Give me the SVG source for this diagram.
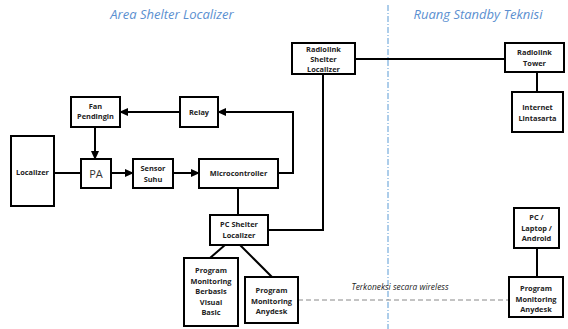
<svg xmlns="http://www.w3.org/2000/svg" width="568" height="329" viewBox="0 0 568 329">
  <defs>
    <marker id="arrow" viewBox="0 0 10 10" refX="9" refY="5" markerWidth="4.5" markerHeight="4.5" orient="auto" markerUnits="strokeWidth">
      <path d="M0,0.5 L10,5 L0,9.5 Z" fill="#000"/>
    </marker>
    <style>
      .box { fill: #fff; stroke: #000; stroke-width: 2; }
      .lbl { font-family: "Open Sans", "Liberation Sans", sans-serif; font-size: 7.4px; font-weight: bold; fill: #222; text-anchor: middle; }
      .area { font-family: "Open Sans", "Liberation Sans", sans-serif; font-size: 13px; font-style: italic; fill: #5b8fd0; text-anchor: middle; }
      .wire { fill: none; stroke: #000; stroke-width: 2; }
      .arr { marker-end: url(#arrow); }
    </style>
  </defs>
  <rect width="568" height="329" fill="#fff"/>

  <!-- section titles and divider -->
  <text class="area" x="172" y="19">Area Shelter Localizer</text>
  <text class="area" x="478" y="19">Ruang Standby Teknisi</text>
  <line x1="388" y1="5" x2="388" y2="329" stroke="#5b9bd5" stroke-width="1" stroke-dasharray="6,2,1,2"/>

  <!-- connectors -->
  <g id="connectors">
    <path class="wire" d="M54,173 H81"/>
    <path class="wire arr" d="M111,173 H133"/>
    <path class="wire arr" d="M173,173 H199"/>
    <path class="wire arr" d="M95,127 V159"/>
    <path class="wire arr" d="M180,112 H120"/>
    <path class="wire arr" d="M278,173 H293 V112 H218"/>
    <path class="wire" d="M238,188 V215"/>
    <path class="wire" d="M268,230 H323 V74"/>
    <path class="wire" d="M355,59 H505"/>
    <path class="wire" d="M537,72 V92"/>
    <path class="wire" d="M225,245 L210,258"/>
    <path class="wire" d="M240,245 L272,277"/>
    <path class="wire" d="M537,248 V277"/>
    <path d="M298,300 H509" fill="none" stroke="#888" stroke-width="1" stroke-dasharray="5,3"/>
    <text x="400" y="290" font-family="'Open Sans', 'Liberation Sans', sans-serif" font-size="8.4" font-style="italic" fill="#222" text-anchor="middle">Terkoneksi secara wireless</text>
  </g>

  <!-- nodes -->
  <g id="localizer">
    <rect class="box" x="11" y="136" width="43" height="70"/>
    <text class="lbl" x="32.5" y="175" font-size="6.6">Localizer</text>
  </g>
  <g id="pa">
    <rect class="box" x="81" y="159" width="30" height="29"/>
    <text x="96" y="177.5" font-family="'Open Sans', 'Liberation Sans', sans-serif" font-size="11" fill="#333" text-anchor="middle">PA</text>
  </g>
  <g id="sensor-suhu">
    <rect class="box" x="133" y="159" width="40" height="29"/>
    <text class="lbl" x="153" y="171">Sensor</text>
    <text class="lbl" x="153" y="182">Suhu</text>
  </g>
  <g id="microcontroller">
    <rect class="box" x="199" y="159" width="79" height="29"/>
    <text class="lbl" x="238.5" y="176">Microcontroller</text>
  </g>
  <g id="fan-pendingin">
    <rect class="box" x="71" y="97" width="49" height="30"/>
    <text class="lbl" x="95.5" y="109" font-size="5.6">Fan</text>
    <text class="lbl" x="95.5" y="119" font-size="5.6">Pendingin</text>
  </g>
  <g id="relay">
    <rect class="box" x="180" y="97" width="38" height="30"/>
    <text class="lbl" x="199" y="115">Relay</text>
  </g>
  <g id="radiolink-shelter">
    <rect class="box" x="292" y="43" width="63" height="31"/>
    <text class="lbl" x="323.5" y="51.5">Radiolink</text>
    <text class="lbl" x="323.5" y="62">Shelter</text>
    <text class="lbl" x="323.5" y="72">Localizer</text>
  </g>
  <g id="radiolink-tower">
    <rect class="box" x="505" y="43" width="59" height="29"/>
    <text class="lbl" x="534.5" y="55">Radiolink</text>
    <text class="lbl" x="534.5" y="65.5">Tower</text>
  </g>
  <g id="internet-lintasarta">
    <rect class="box" x="512" y="92" width="51" height="40"/>
    <text class="lbl" x="537.5" y="110">Internet</text>
    <text class="lbl" x="537.5" y="120.5">Lintasarta</text>
  </g>
  <g id="pc-shelter">
    <rect class="box" x="210" y="215" width="58" height="30"/>
    <text class="lbl" x="239" y="227">PC Shelter</text>
    <text class="lbl" x="239" y="237.5">Localizer</text>
  </g>
  <g id="program-vb">
    <rect class="box" x="184" y="258" width="54" height="68"/>
    <text class="lbl" x="211" y="273">Program</text>
    <text class="lbl" x="211" y="283.5">Monitoring</text>
    <text class="lbl" x="211" y="294">Berbasis</text>
    <text class="lbl" x="211" y="304.5">Visual</text>
    <text class="lbl" x="211" y="315">Basic</text>
  </g>
  <g id="program-anydesk-shelter">
    <rect class="box" x="245" y="277" width="53" height="46"/>
    <text class="lbl" x="271.5" y="293">Program</text>
    <text class="lbl" x="271.5" y="303.5">Monitoring</text>
    <text class="lbl" x="271.5" y="314">Anydesk</text>
  </g>
  <g id="pc-laptop-android">
    <rect class="box" x="514" y="208" width="45" height="40"/>
    <text class="lbl" x="536.5" y="220">PC /</text>
    <text class="lbl" x="536.5" y="230.5">Laptop /</text>
    <text class="lbl" x="536.5" y="241">Android</text>
  </g>
  <g id="program-anydesk-standby">
    <rect class="box" x="509" y="277" width="54" height="40"/>
    <text class="lbl" x="536" y="291">Program</text>
    <text class="lbl" x="536" y="301.5">Monitoring</text>
    <text class="lbl" x="536" y="312">Anydesk</text>
  </g>
</svg>
